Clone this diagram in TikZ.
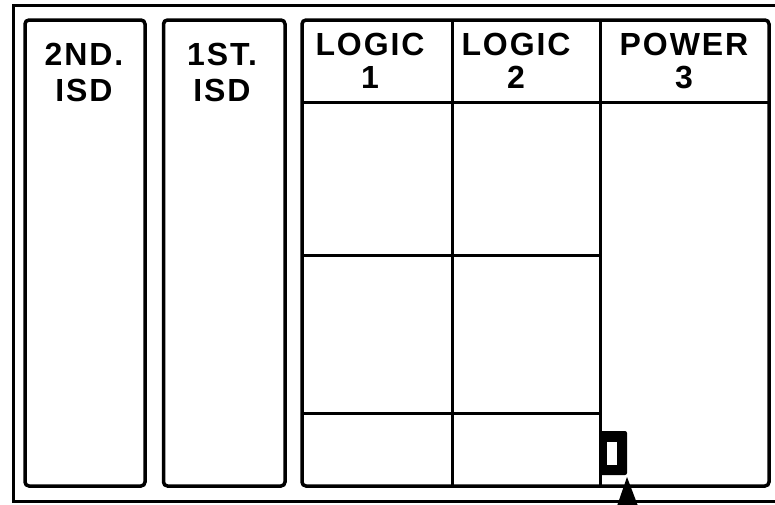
\documentclass[tikz,border=0pt]{standalone}
\usepackage{fontspec}
\setmainfont{Liberation Sans}[LetterSpace=6]
\usepackage{tikz}

\tikzset{
  panel/.style={line width=3.5pt, rounded corners=4pt},
  grid/.style={line width=3pt},
  tag/.style={font=\bfseries\fontsize{32}{33}\selectfont, align=center, inner sep=0pt}
}

\begin{document}
\begin{tikzpicture}[x=1pt, y=-1pt]
      \useasboundingbox (0,0) rectangle (775,504);
      \clip (0,0) rectangle (775,504);
      \draw[black, line width=3pt] (790,5.5) -- (13,5.5) -- (13,501) -- (790,501);
      \draw[black, panel] (25,20) rectangle (145,486);
      \draw[black, panel] (163.5,20) rectangle (285,486);
      \draw[black, panel] (302,20) rectangle (769,486);
      \draw[grid] (302,102) -- (769,102);
      \draw[grid] (452,20) -- (452,486);
      \draw[grid] (600,20) -- (600,486);
      \draw[grid] (302,255) -- (600,255);
      \draw[grid] (302,413) -- (600,413);
      \node[tag] (isd2) at (84,72) {2ND.\\[3pt]ISD};
      \node[tag] (isd1) at (222,72) {1ST.\\[3pt]ISD};
      \node[tag] (logic1) at (370,61) {LOGIC\\1};
      \node[tag] (logic2) at (516,61) {LOGIC\\2};
      \node[tag] (power3) at (684,61) {POWER\\3};
      \fill[black, rounded corners=2pt] (599,431) rectangle (627,475);
      \fill[white] (607,442) rectangle (617,465);
      \fill[black] (627,477) -- (638,506) -- (617,506) -- cycle;
\end{tikzpicture}
\end{document}
